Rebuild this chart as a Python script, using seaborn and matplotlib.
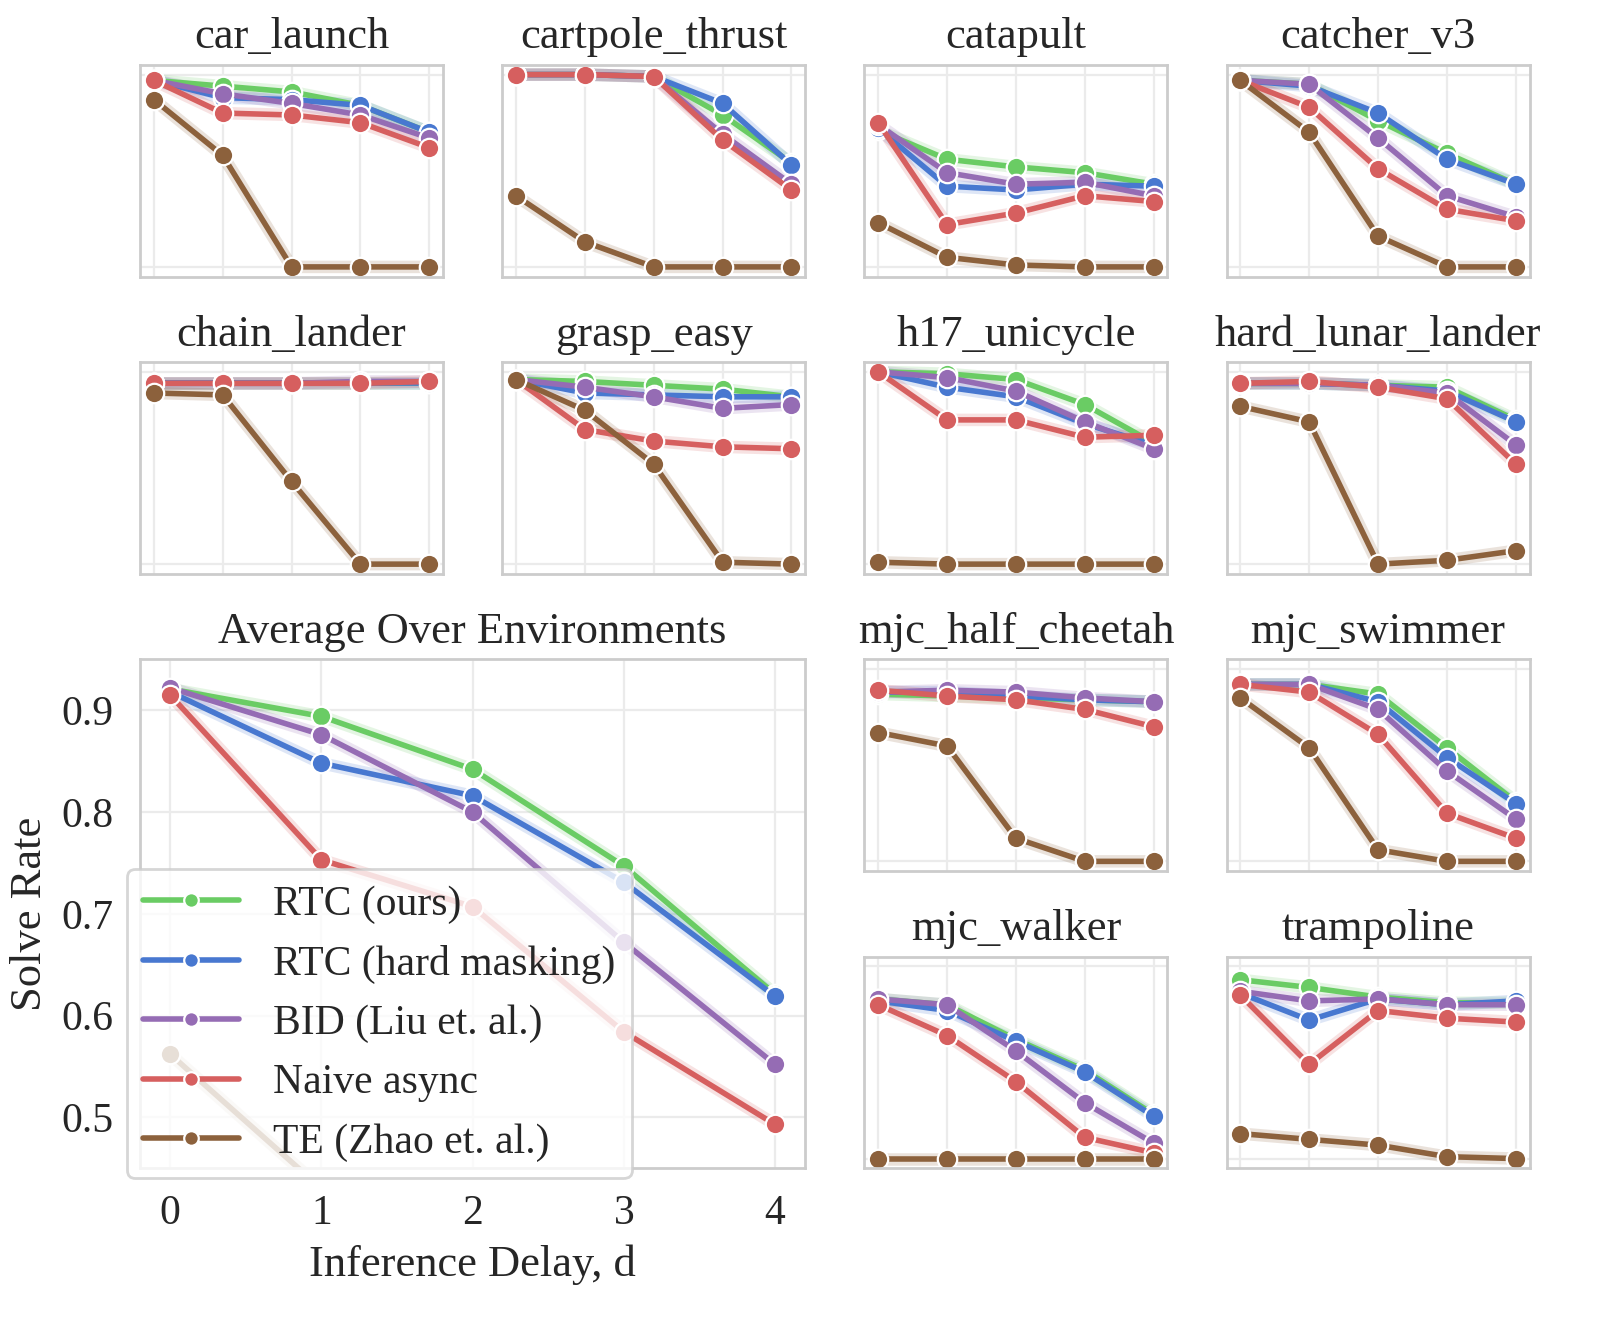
import numpy as np
import pandas as pd
import matplotlib
matplotlib.use('Agg')
import matplotlib.pyplot as plt
import seaborn as sns

delays = [0, 1, 2, 3, 4]
methods = ['RTC (ours)', 'RTC (hard masking)', 'BID (Liu et. al.)', 'Naive async', 'TE (Zhao et. al.)']
colors = ['#6acc64', '#4878d0', '#956cb4', '#d65f5f', '#8c613c']

# each env: one row per method, same order as `methods`
car_launch = [[0.97, 0.94, 0.91, 0.84, 0.70],
              [0.97, 0.88, 0.87, 0.84, 0.70],
              [0.97, 0.90, 0.85, 0.79, 0.67],
              [0.97, 0.80, 0.79, 0.75, 0.62],
              [0.87, 0.58, 0.00, 0.00, 0.00]]
cartpole_thrust = [[1.00, 1.00, 0.99, 0.79, 0.54],
                   [1.00, 1.00, 0.99, 0.85, 0.53],
                   [1.00, 1.00, 0.99, 0.69, 0.43],
                   [1.00, 1.00, 0.99, 0.66, 0.40],
                   [0.37, 0.13, 0.00, 0.00, 0.00]]
catapult = [[0.71, 0.56, 0.52, 0.49, 0.43],
            [0.72, 0.42, 0.40, 0.43, 0.42],
            [0.74, 0.49, 0.43, 0.44, 0.37],
            [0.75, 0.22, 0.28, 0.37, 0.34],
            [0.23, 0.05, 0.01, 0.00, 0.00]]
catcher_v3 = [[0.97, 0.95, 0.76, 0.59, 0.43],
              [0.97, 0.94, 0.80, 0.56, 0.43],
              [0.97, 0.95, 0.67, 0.37, 0.26],
              [0.97, 0.83, 0.51, 0.30, 0.24],
              [0.97, 0.70, 0.16, 0.00, 0.00]]
chain_lander = [[0.94, 0.94, 0.94, 0.94, 0.94],
                [0.94, 0.94, 0.94, 0.94, 0.94],
                [0.94, 0.94, 0.94, 0.95, 0.95],
                [0.94, 0.94, 0.94, 0.94, 0.95],
                [0.89, 0.88, 0.43, 0.00, 0.00]]
grasp_easy = [[0.96, 0.95, 0.93, 0.91, 0.87],
              [0.96, 0.89, 0.88, 0.87, 0.87],
              [0.96, 0.92, 0.87, 0.81, 0.83],
              [0.96, 0.70, 0.64, 0.61, 0.60],
              [0.96, 0.80, 0.52, 0.01, 0.00]]
h17_unicycle = [[1.00, 0.99, 0.96, 0.83, 0.63],
                [1.00, 0.92, 0.87, 0.73, 0.62],
                [1.00, 0.97, 0.90, 0.74, 0.60],
                [1.00, 0.75, 0.75, 0.66, 0.67],
                [0.01, 0.00, 0.00, 0.00, 0.00]]
hard_lunar_lander = [[0.94, 0.94, 0.93, 0.92, 0.75],
                     [0.94, 0.94, 0.93, 0.90, 0.74],
                     [0.94, 0.94, 0.93, 0.89, 0.62],
                     [0.94, 0.95, 0.92, 0.86, 0.52],
                     [0.82, 0.74, 0.00, 0.02, 0.07]]
mjc_half_cheetah = [[0.87, 0.86, 0.85, 0.84, 0.83],
                    [0.88, 0.88, 0.86, 0.84, 0.83],
                    [0.88, 0.89, 0.88, 0.85, 0.83],
                    [0.89, 0.86, 0.84, 0.79, 0.70],
                    [0.67, 0.60, 0.12, 0.00, 0.00]]
mjc_swimmer = [[0.92, 0.92, 0.87, 0.59, 0.31],
               [0.92, 0.92, 0.83, 0.54, 0.30],
               [0.92, 0.92, 0.79, 0.47, 0.22],
               [0.92, 0.88, 0.66, 0.25, 0.12],
               [0.85, 0.59, 0.06, 0.00, 0.00]]
mjc_walker = [[0.83, 0.80, 0.62, 0.46, 0.23],
              [0.82, 0.77, 0.61, 0.45, 0.22],
              [0.83, 0.80, 0.56, 0.29, 0.08],
              [0.80, 0.64, 0.40, 0.11, 0.03],
              [0.00, 0.00, 0.00, 0.00, 0.00]]
trampoline = [[0.93, 0.89, 0.84, 0.81, 0.81],
              [0.86, 0.72, 0.83, 0.80, 0.82],
              [0.87, 0.82, 0.83, 0.80, 0.80],
              [0.85, 0.49, 0.77, 0.73, 0.71],
              [0.13, 0.10, 0.07, 0.01, 0.00]]
average = [[0.921, 0.894, 0.842, 0.747, 0.621],
           [0.918, 0.848, 0.816, 0.731, 0.619],
           [0.922, 0.876, 0.800, 0.672, 0.552],
           [0.915, 0.753, 0.707, 0.584, 0.493],
           [0.562, 0.430, 0.180, 0.080, 0.060]]

env_names = ['car_launch', 'cartpole_thrust', 'catapult', 'catcher_v3',
             'chain_lander', 'grasp_easy', 'h17_unicycle', 'hard_lunar_lander',
             'mjc_half_cheetah', 'mjc_swimmer', 'mjc_walker', 'trampoline']
env_values = [car_launch, cartpole_thrust, catapult, catcher_v3,
              chain_lander, grasp_easy, h17_unicycle, hard_lunar_lander,
              mjc_half_cheetah, mjc_swimmer, mjc_walker, trampoline]
env_slots = [(0, 0), (0, 1), (0, 2), (0, 3),
             (1, 0), (1, 1), (1, 2), (1, 3),
             (2, 2), (2, 3), (3, 2), (3, 3)]

sns.set_theme(style='whitegrid')
plt.rcParams['font.family'] = ['Liberation Serif', 'DejaVu Serif']
plt.rcParams['axes.edgecolor'] = '#cccccc'
plt.rcParams['axes.linewidth'] = 1.0
plt.rcParams['grid.color'] = '#ebebeb'
plt.rcParams['grid.linewidth'] = 0.8


def to_frame(vals):
    return pd.DataFrame({'delay': delays * len(methods),
                         'rate': np.ravel(vals),
                         'method': np.repeat(methods, len(delays))})


def draw(ax, vals, legend=False):
    df = to_frame(vals)
    # faint band around each line
    sns.lineplot(data=df, x='delay', y='rate', hue='method', hue_order=methods,
                 palette=colors, lw=4.5, alpha=0.18, legend=False, ax=ax)
    sns.lineplot(data=df, x='delay', y='rate', hue='method', hue_order=methods,
                 palette=colors, lw=2, marker='o', markersize=7,
                 markeredgecolor='white', markeredgewidth=0.8,
                 legend=legend, ax=ax)
    ax.set_xticks(delays)
    ax.set_xlim(-0.2, 4.2)


fig = plt.figure(figsize=(8, 6.63), dpi=200)
gs = fig.add_gridspec(4, 4, left=0.0875, right=0.956, top=0.951, bottom=0.119,
                      wspace=0.195, hspace=0.405)

for name, vals, (r, c) in zip(env_names, env_values, env_slots):
    ax = fig.add_subplot(gs[r, c])
    draw(ax, vals)
    ax.set_ylim(-0.05, 1.05)
    ax.set_yticks([0, 1])
    ax.tick_params(labelbottom=False, labelleft=False)
    ax.set_xlabel('')
    ax.set_ylabel('')
    ax.set_title(name, fontsize=16)

ax = fig.add_subplot(gs[2:4, 0:2])
draw(ax, average, legend=True)
ax.set_ylim(0.45, 0.95)
ax.set_yticks([0.5, 0.6, 0.7, 0.8, 0.9])
ax.tick_params(labelsize=15)
ax.set_title('Average Over Environments', fontsize=16)
ax.set_xlabel('Inference Delay, d', fontsize=16)
ax.set_ylabel('Solve Rate', fontsize=16)
ax.legend(loc='lower left', bbox_to_anchor=(-0.02, -0.02), borderaxespad=0,
          fontsize=15, framealpha=0.8, handlelength=2.3, markerscale=0.75)

fig.savefig('out.png', dpi=200)
